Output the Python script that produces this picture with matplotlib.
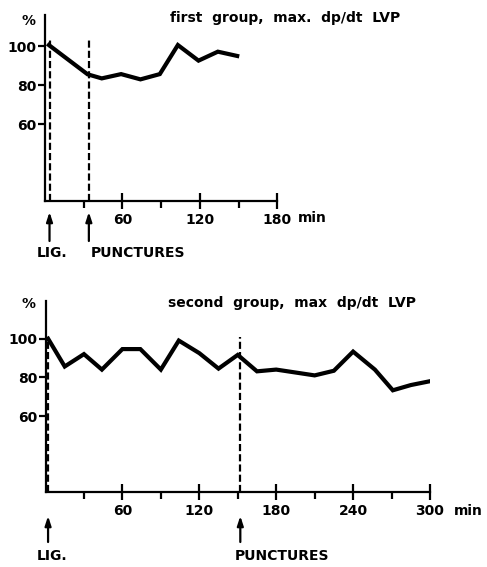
import matplotlib
matplotlib.use("Agg")
import matplotlib.pyplot as plt
from matplotlib.transforms import blended_transform_factory

# ---------------- data ----------------
t_first = [3, 33, 44, 59, 74, 89, 103, 119, 134, 149]
v_first = [100.5, 85.5, 83.4, 85.6, 82.9, 85.6, 100.5, 92.5, 97.1, 94.9]
lig_first = 3.5
punct_first = 34

t_second = [2, 15, 30, 44, 60, 74, 90, 104, 120, 135, 150, 165, 180, 210, 225, 240, 257, 271, 285, 300]
v_second = [100, 85.6, 92.0, 84.0, 94.6, 94.6, 84.0, 99.0, 92.5, 84.5, 91.6, 83.1, 84.0, 81.0, 83.4, 93.3, 84.0, 73.3, 76.0, 78.0]
lig_second = 2
punct_second = 152

y_ticks = [60, 80, 100]
title_first = "first  group,  max.  dp/dt  LVP"
title_second = "second  group,  max  dp/dt  LVP"

W, H = 487, 567
fig = plt.figure(figsize=(W / 100, H / 100), dpi=100)
plt.rcParams['font.family'] = ['DejaVu Sans']
FS = 10
FW = 'bold'


def px_axes(left, top, right, bottom):
    return fig.add_axes([left / W, 1 - bottom / H, (right - left) / W, (bottom - top) / H])


def fy(py):
    return 1 - py / H


def setup(ax, t, v, lig, punct, xmax, ylim, major, minor, title, title_xy, pct_xy,
          dash_top, arrow_tip, arrow_tail, label_y, lig_label_x, punct_label_x, min_xy):
    ax.set_xlim(0, xmax)
    ax.set_ylim(*ylim)
    for s in ['top', 'right']:
        ax.spines[s].set_visible(False)
    for s in ['left', 'bottom']:
        ax.spines[s].set_linewidth(1.6)
    ax.patch.set_alpha(0)
    ax.plot(t, v, color='black', lw=3.0, solid_joinstyle='miter', zorder=3)
    for xv in (lig, punct):
        ax.plot([xv, xv], [ylim[0], dash_top], color='black', lw=1.6,
                dashes=(3.2, 1.4), zorder=2)
    ax.set_yticks(y_ticks)
    ax.set_yticklabels([str(y) for y in y_ticks], fontsize=FS, fontweight=FW)
    ax.tick_params(axis='y', direction='out', length=5, width=1.6, pad=1)
    ax.set_xticks(major)
    ax.set_xticklabels([str(m) for m in major], fontsize=FS, fontweight=FW)
    ax.tick_params(axis='x', which='major', direction='inout', length=11, width=1.6, pad=3)
    ax.set_xticks(minor, minor=True)
    ax.tick_params(axis='x', which='minor', direction='out', length=5, width=1.6)
    fig.text(title_xy[0] / W, fy(title_xy[1]), title, fontsize=FS, fontweight=FW,
             ha='left', va='center')
    fig.text(pct_xy[0] / W, fy(pct_xy[1]), '%', fontsize=FS, fontweight=FW,
             ha='center', va='center')
    fig.text(min_xy[0] / W, fy(min_xy[1]), 'min', fontsize=FS, fontweight=FW,
             ha='left', va='center')
    tr = blended_transform_factory(ax.transData, fig.transFigure)
    for xv in (lig, punct):
        ax.annotate('', xy=(xv, fy(arrow_tip)), xytext=(xv, fy(arrow_tail)),
                    xycoords=tr, textcoords=tr, annotation_clip=False,
                    arrowprops=dict(arrowstyle='-|>,head_length=0.55,head_width=0.18',
                                    lw=1.6, color='black', shrinkA=0, shrinkB=0))
    fig.text(lig_label_x / W, fy(label_y), 'LIG.', fontsize=FS, fontweight=FW,
             ha='center', va='center')
    fig.text(punct_label_x / W, fy(label_y), 'PUNCTURES', fontsize=FS, fontweight=FW,
             ha='center', va='center')


ax1 = px_axes(45, 15, 45 + 180 * 1.29, 200.7)
setup(ax1, t_first, v_first, lig_first, punct_first, 180, (20.7, 115.9),
      [60, 120, 180], [30, 90, 150], title_first, (170, 18.3), (29, 21),
      103.5, 212, 241, 253, 51.7, 138, (298, 218))

ax2 = px_axes(45.5, 300.7, 430, 491.7)
setup(ax2, t_second, v_second, lig_second, punct_second, 300, (20.9, 119.6),
      [60, 120, 180, 240, 300], [30, 90, 150, 210, 270], title_second, (168, 302.7), (28, 304),
      100.8, 516, 542, 556, 51.7, 281.7, (454, 511))

fig.savefig('out.png', dpi=100)
